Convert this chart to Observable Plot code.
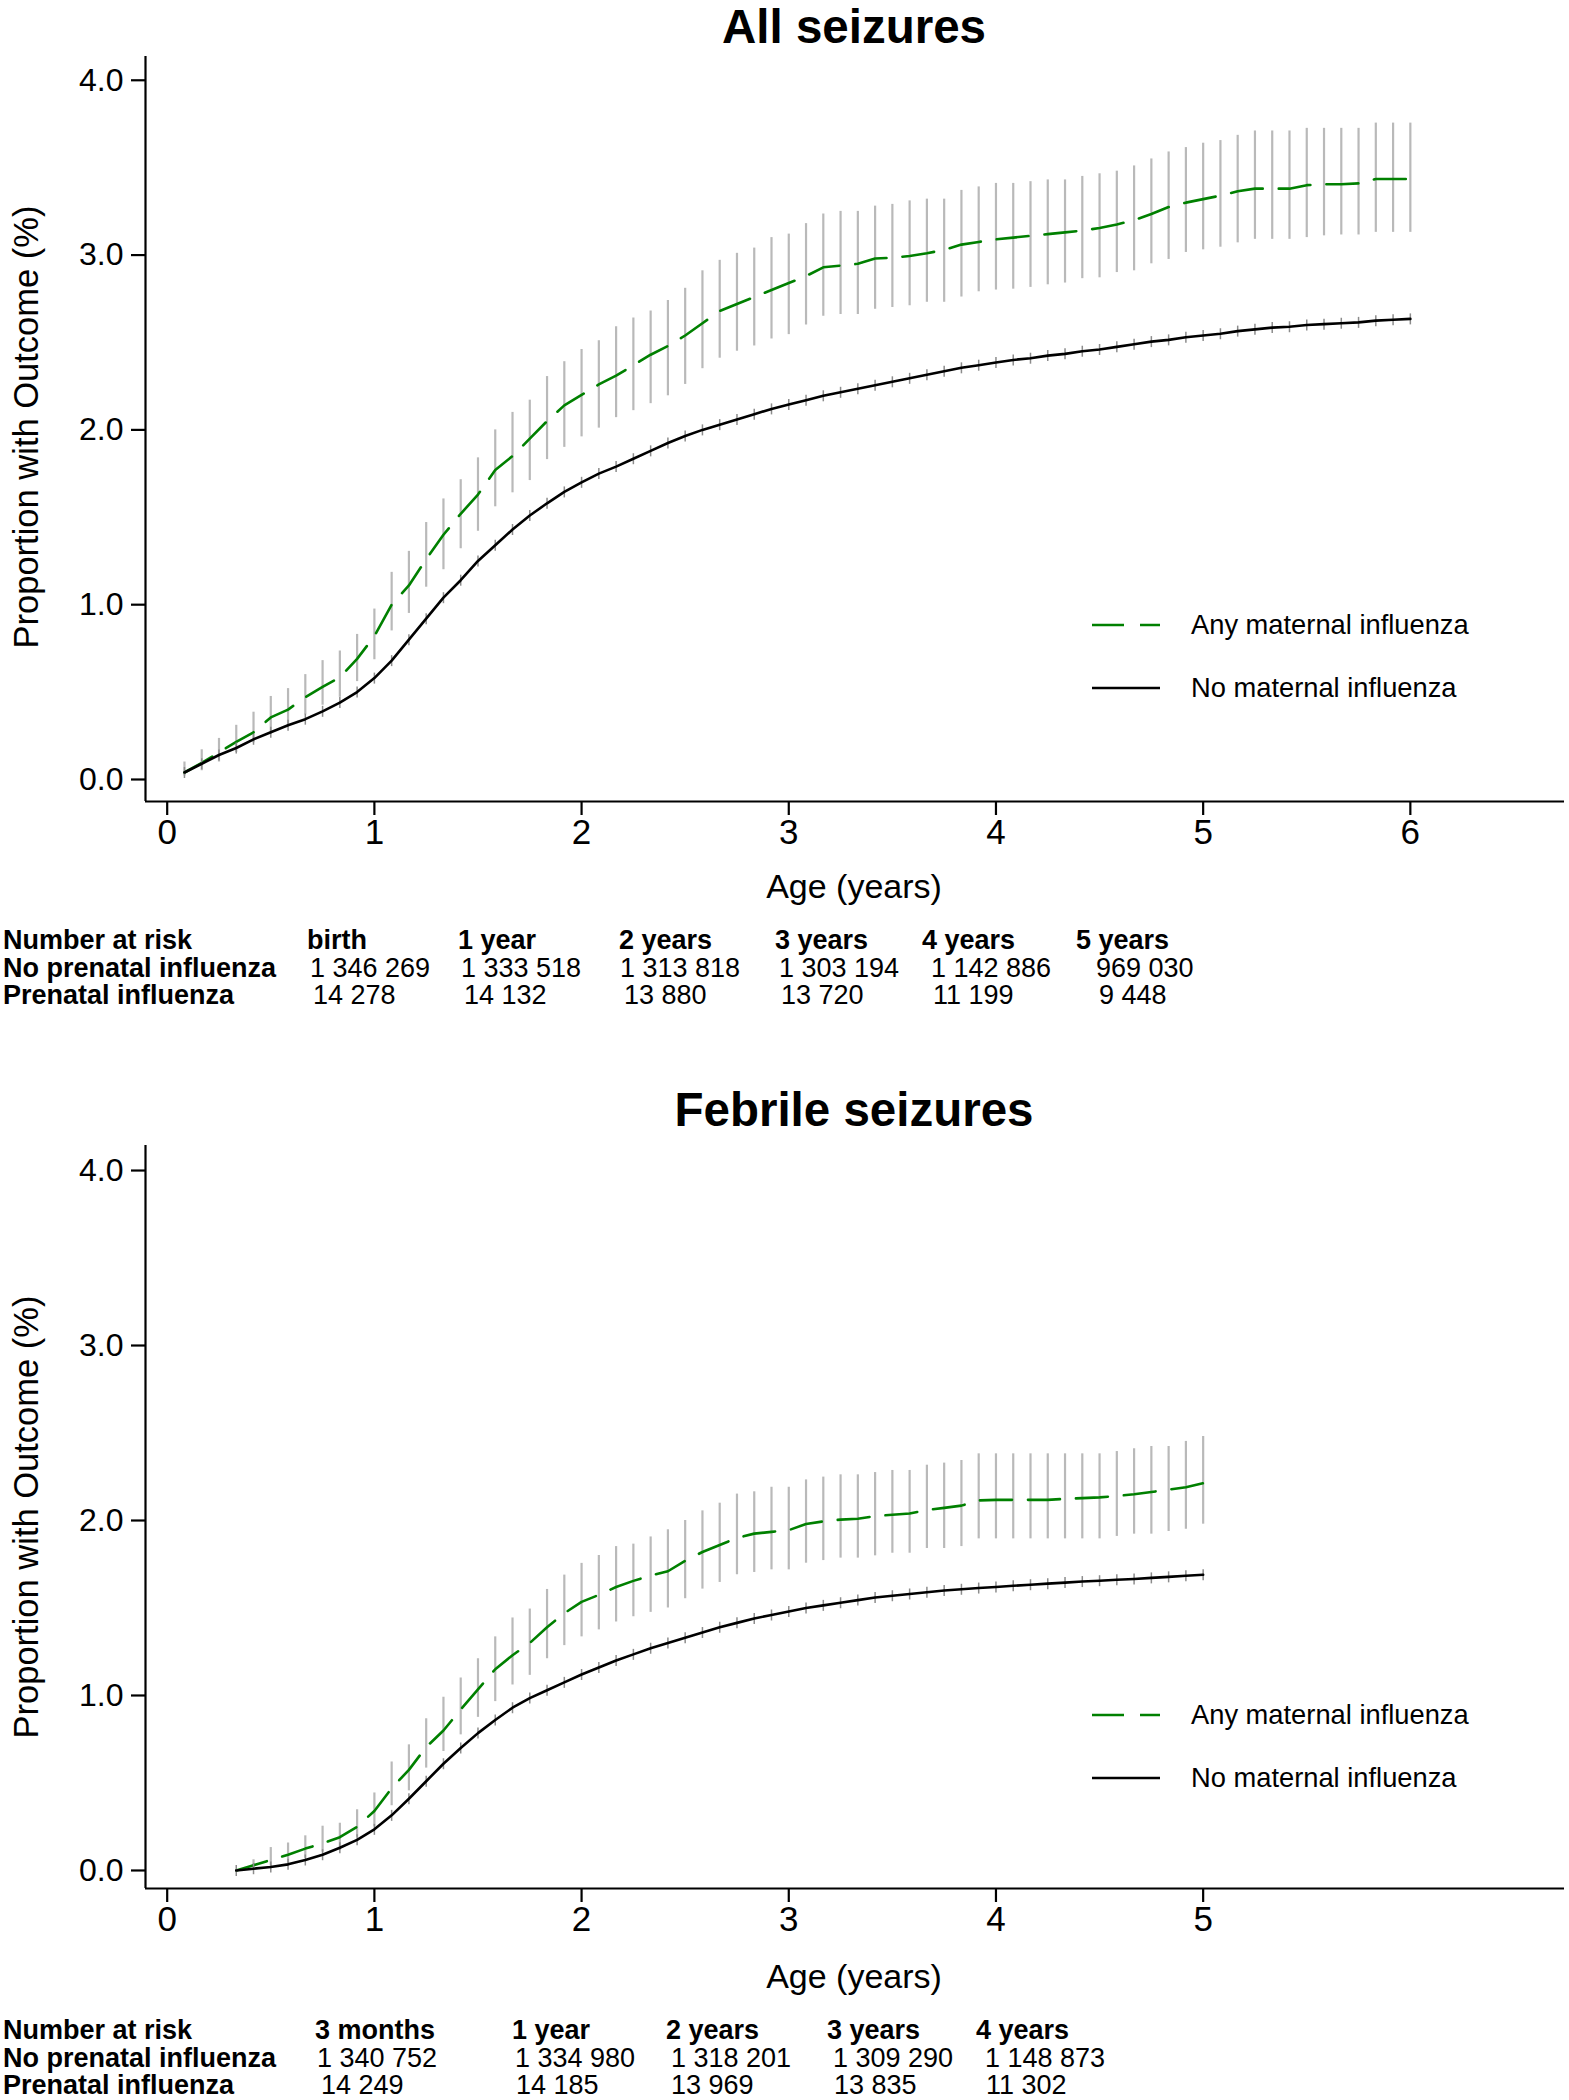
<!DOCTYPE html>
<html><head><meta charset="utf-8">
<script src="https://cdn.jsdelivr.net/npm/d3@7"></script>
<script src="https://cdn.jsdelivr.net/npm/@observablehq/plot@0.6"></script>
<style>
body{margin:0;background:#fff;}
#page{position:relative;width:1569px;height:2100px;overflow:hidden;background:#fff;}
#page > svg{position:absolute;left:0;}
</style></head><body><div id="page"></div>
<script>
// ---------- data ----------
// All seizures: monthly points, month 1..72
const topMonths = d3.range(1, 73);
const topAnyEst = [0.04,0.095,0.155,0.215,0.27,0.355,0.40,0.47,0.53,0.585,0.69,0.82,
  1.00,1.11,1.26,1.40,1.52,1.63,1.77,1.85,1.95,2.05,2.14,2.20,
  2.26,2.31,2.37,2.43,2.48,2.54,2.61,2.68,2.72,2.76,2.80,2.84,
  2.88,2.93,2.94,2.95,2.98,2.985,2.995,3.01,3.03,3.06,3.075,3.09,
  3.10,3.11,3.12,3.13,3.14,3.155,3.175,3.20,3.235,3.275,3.30,3.32,
  3.34,3.365,3.38,3.38,3.38,3.40,3.405,3.405,3.41,3.435,3.435,3.435];
const topAnyLo = [0.02,0.05,0.10,0.155,0.21,0.26,0.31,0.37,0.425,0.47,0.56,0.685,
  0.85,0.95,1.10,1.20,1.32,1.42,1.56,1.64,1.71,1.83,1.90,1.96,
  2.01,2.07,2.11,2.15,2.195,2.26,2.35,2.41,2.45,2.48,2.52,2.545,
  2.60,2.65,2.66,2.66,2.69,2.70,2.71,2.73,2.73,2.76,2.79,2.80,
  2.805,2.815,2.83,2.84,2.865,2.87,2.90,2.91,2.95,2.975,3.015,3.03,
  3.045,3.07,3.09,3.09,3.09,3.10,3.11,3.115,3.115,3.13,3.13,3.13];
const topAnyHi = [0.10,0.17,0.235,0.31,0.385,0.475,0.52,0.60,0.68,0.735,0.83,0.975,
  1.185,1.305,1.47,1.605,1.715,1.84,2.00,2.10,2.17,2.305,2.39,2.46,
  2.51,2.59,2.64,2.68,2.74,2.81,2.91,2.97,3.01,3.04,3.10,3.12,
  3.18,3.235,3.25,3.25,3.28,3.29,3.31,3.32,3.32,3.37,3.39,3.41,
  3.41,3.42,3.43,3.43,3.45,3.465,3.48,3.51,3.55,3.59,3.615,3.64,
  3.655,3.685,3.71,3.71,3.71,3.725,3.725,3.725,3.725,3.755,3.755,3.755];
const topNoEst = [0.04,0.09,0.14,0.18,0.23,0.27,0.31,0.345,0.39,0.44,0.50,0.58,
  0.68,0.80,0.92,1.04,1.14,1.25,1.34,1.43,1.51,1.58,1.645,1.70,
  1.75,1.79,1.835,1.88,1.925,1.965,2.00,2.03,2.06,2.09,2.12,2.145,
  2.17,2.195,2.215,2.235,2.255,2.275,2.295,2.315,2.335,2.355,2.37,2.385,
  2.40,2.41,2.425,2.435,2.45,2.46,2.475,2.49,2.505,2.515,2.53,2.54,
  2.55,2.565,2.575,2.585,2.59,2.60,2.605,2.61,2.615,2.625,2.63,2.635];

// Febrile seizures: monthly points, month 4..60
const febMonths = d3.range(4, 61);
const febAnyEst = [0.00,0.03,0.06,0.09,0.125,0.155,0.19,0.25,0.34,
  0.47,0.575,0.705,0.80,0.92,1.035,1.15,1.23,1.30,1.39,1.47,1.535,
  1.575,1.62,1.655,1.685,1.71,1.77,1.82,1.86,1.90,1.925,1.935,1.945,
  1.98,1.995,2.005,2.01,2.025,2.033,2.04,2.06,2.072,2.085,2.115,2.118,
  2.118,2.118,2.118,2.124,2.128,2.132,2.14,2.15,2.163,2.176,2.19,2.213];
const febAnyLo = [0.00,0.014,0.02,0.024,0.07,0.105,0.115,0.19,0.25,
  0.37,0.455,0.585,0.68,0.775,0.875,0.965,1.06,1.115,1.21,1.285,1.335,
  1.375,1.42,1.45,1.475,1.50,1.553,1.608,1.646,1.69,1.703,1.718,1.718,
  1.756,1.771,1.785,1.785,1.798,1.813,1.813,1.84,1.84,1.851,1.895,1.895,
  1.895,1.895,1.895,1.895,1.895,1.895,1.909,1.922,1.922,1.937,1.95,1.979];
const febAnyHi = [0.00,0.061,0.131,0.157,0.198,0.253,0.27,0.347,0.443,
  0.62,0.718,0.867,0.99,1.10,1.21,1.335,1.443,1.494,1.606,1.688,1.755,
  1.80,1.851,1.865,1.906,1.947,2.00,2.055,2.099,2.151,2.164,2.19,2.19,
  2.232,2.248,2.261,2.261,2.274,2.286,2.286,2.316,2.328,2.343,2.381,2.381,
  2.381,2.381,2.381,2.381,2.381,2.381,2.394,2.41,2.423,2.423,2.452,2.48];
const febNoEst = [0.00,0.01,0.02,0.035,0.06,0.09,0.13,0.175,0.235,
  0.315,0.41,0.51,0.61,0.70,0.785,0.86,0.93,0.985,1.03,1.075,1.12,
  1.16,1.20,1.235,1.27,1.30,1.33,1.36,1.39,1.415,1.44,1.46,1.48,
  1.50,1.515,1.53,1.545,1.56,1.57,1.58,1.59,1.60,1.607,1.614,1.62,
  1.627,1.633,1.639,1.645,1.651,1.656,1.661,1.666,1.672,1.678,1.684,1.69];

const yTicks = [0, 1, 2, 3, 4];
const topXTicks = [0, 1, 2, 3, 4, 5, 6];
const febXTicks = [0, 1, 2, 3, 4, 5];

const titles = ["All seizures", "Febrile seizures"];
const seriesNames = ["Any maternal influenza", "No maternal influenza"];
const xLabel = "Age (years)";
const yLabel = "Proportion with Outcome (%)";
const riskRowLabels = ["Number at risk", "No prenatal influenza", "Prenatal influenza"];
const riskTopHeads = ["birth","1 year","2 years","3 years","4 years","5 years"];
const riskTopNo = ["1 346 269","1 333 518","1 313 818","1 303 194","1 142 886","969 030"];
const riskTopFlu = ["14 278","14 132","13 880","13 720","11 199","9 448"];
const riskFebHeads = ["3 months","1 year","2 years","3 years","4 years"];
const riskFebNo = ["1 340 752","1 334 980","1 318 201","1 309 290","1 148 873"];
const riskFebFlu = ["14 249","14 185","13 969","13 835","11 302"];

// ---------- layout ----------
const FONT = '"Liberation Sans", Arial, Helvetica, sans-serif';
const GREEN = "#008000";
const GREY = "#b9b9b9";
const DASH = "32,16";
const page = document.getElementById("page");

const vtick = {draw(ctx, size) { const h = Math.sqrt(size / Math.PI); ctx.moveTo(0, -h); ctx.lineTo(0, h); }};

function rowsOf(months, est, lo, hi, no) {
  return months.map((m, i) => ({age: m / 12, any: est[i], lo: lo[i], hi: hi[i], no: no[i]}));
}

function panel(rows, xTicks, yDomain, marginTop, plotBottom, height) {
  const xDomain = [-0.1047, 6.744];
  return Plot.plot({
    width: 1569, height,
    marginLeft: 145, marginRight: 5, marginTop, marginBottom: height - plotBottom,
    x: {domain: xDomain},
    y: {domain: yDomain},
    style: {fontFamily: FONT, color: "#000", background: "transparent", overflow: "visible"},
    marks: [
      Plot.ruleX(rows, {x: "age", y1: "lo", y2: "hi", stroke: GREY, strokeWidth: 2.2}),
      Plot.line(rows, {x: "age", y: "any", stroke: GREEN, strokeWidth: 2.6, strokeDasharray: DASH}),
      Plot.dot(rows, {x: "age", y: "no", symbol: vtick, r: 5.5, fill: "none", stroke: "#8c8c8c", strokeWidth: 1.5}),
      Plot.line(rows, {x: "age", y: "no", stroke: "#000", strokeWidth: 2.6}),
      Plot.ruleX([xDomain[0]], {stroke: "#000", strokeWidth: 2.2}),
      Plot.ruleY([yDomain[0]], {stroke: "#000", strokeWidth: 2.2}),
      Plot.axisY({ticks: yTicks, tickFormat: d3.format(".1f"), tickSize: 14, tickPadding: 8,
        fontSize: 32, label: null, strokeWidth: 2.2}),
      Plot.axisX({ticks: xTicks, tickFormat: d3.format("d"), tickSize: 14, tickPadding: 4,
        fontSize: 35, label: null, strokeWidth: 2.2})
    ]
  });
}

const topRows = rowsOf(topMonths, topAnyEst, topAnyLo, topAnyHi, topNoEst);
const febRows = rowsOf(febMonths, febAnyEst, febAnyLo, febAnyHi, febNoEst);

const p1 = panel(topRows, topXTicks, [-0.1259, 4.136], 56, 801, 861);
p1.style.top = "0px";
page.appendChild(p1);

const OFF = 1091;
const p2 = panel(febRows, febXTicks, [-0.103, 4.143], 1145 - OFF, 1888 - OFF, 857);
p2.style.top = OFF + "px";
page.appendChild(p2);

// ---------- overlay: titles, axis labels, legends, risk tables ----------
const ov = d3.select(page).append("svg")
  .attr("width", 1569).attr("height", 2100)
  .style("top", "0px").style("pointer-events", "none")
  .attr("font-family", FONT).attr("fill", "#000");

function txt(x, y, s, size, opts = {}) {
  const t = ov.append("text").attr("x", x).attr("y", y).attr("font-size", size).text(s);
  if (opts.bold) t.attr("font-weight", "bold");
  if (opts.anchor) t.attr("text-anchor", opts.anchor);
  if (opts.rotate) t.attr("transform", `rotate(-90 ${x} ${y})`);
  return t;
}

function decorate(dy, titleY, title, heads, noVals, fluVals, headX, noX, fluX) {
  txt(854, titleY, title, 47.5, {bold: true, anchor: "middle"});
  txt(854, 898 + dy, xLabel, 34, {anchor: "middle"});
  txt(38, 427 + dy, yLabel, 34.5, {anchor: "middle", rotate: true});
  // legend
  ov.append("line").attr("x1", 1092).attr("x2", 1160).attr("y1", 625 + dy).attr("y2", 625 + dy)
    .attr("stroke", GREEN).attr("stroke-width", 2.6).attr("stroke-dasharray", DASH);
  ov.append("line").attr("x1", 1092).attr("x2", 1160).attr("y1", 688 + dy).attr("y2", 688 + dy)
    .attr("stroke", "#000").attr("stroke-width", 2.6);
  txt(1191, 634 + dy, seriesNames[0], 27.3);
  txt(1191, 697 + dy, seriesNames[1], 27.3);
  // risk table
  const rows = [949 + dy, 977 + dy, 1004 + dy];
  riskRowLabels.forEach((s, i) => txt(3, rows[i], s, 27, {bold: true}));
  heads.forEach((s, i) => txt(headX[i], rows[0], s, 27, {bold: true}));
  noVals.forEach((s, i) => txt(noX[i], rows[1], s, 27));
  fluVals.forEach((s, i) => txt(fluX[i], rows[2], s, 27));
}

decorate(0, 43, titles[0], riskTopHeads, riskTopNo, riskTopFlu,
  [307, 458, 619, 775, 922, 1076], [310, 461, 620, 779, 931, 1096], [313, 464, 624, 781, 933, 1099]);
decorate(1090, 1126, titles[1], riskFebHeads, riskFebNo, riskFebFlu,
  [315, 512, 666, 827, 976], [317, 515, 671, 833, 985], [321, 516, 671, 834, 986]);
</script>
</body></html>
